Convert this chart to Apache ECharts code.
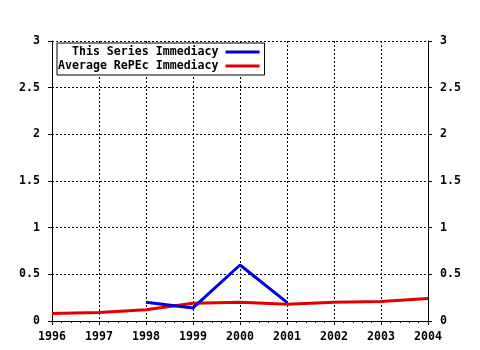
<!DOCTYPE html>
<html><head><meta charset="utf-8">
<script src="https://cdn.jsdelivr.net/npm/echarts@6/dist/echarts.min.js"></script>
<style>html,body{margin:0;padding:0;background:#fff}#c{width:480px;height:350px}</style>
</head><body><div id="c"></div>
<script>
const years = [1996, 1997, 1998, 1999, 2000, 2001, 2002, 2003, 2004];
const seriesYears = [1998, 1999, 2000, 2001];
const seriesImmediacy = [0.2, 0.14, 0.6, 0.2];
const averageImmediacy = [0.08, 0.09, 0.12, 0.19, 0.2, 0.18, 0.2, 0.21, 0.24];
const seriesNames = ['This Series Immediacy', 'Average RePEc Immediacy'];

const font = 'DejaVu Sans Mono';
const chart = echarts.init(document.getElementById('c'), null, {renderer: 'canvas'});
const yCommon = {
  type: 'value', min: 0, max: 3, interval: 0.5,
  axisLine: {show: true, lineStyle: {color: '#000', width: 1}},
  axisTick: {show: true, length: 4, lineStyle: {color: '#000'}},
  axisLabel: {color: '#000', fontFamily: font, fontWeight: 'bold', fontSize: 11.6, margin: 12}
};
chart.setOption({
  animation: false,
  backgroundColor: '#fff',
  grid: {left: 52, right: 52, top: 41, bottom: 29},
  legend: {
    orient: 'vertical', align: 'right', left: 57, top: 43,
    itemGap: 2, itemWidth: 34, itemHeight: 3, icon: 'rect',
    padding: [3, 5, 3, 1],
    backgroundColor: '#fff',
    borderColor: '#000', borderWidth: 1,
    textStyle: {color: '#000', fontFamily: font, fontWeight: 'bold', fontSize: 11.6, padding: [0, 2, 0, 0]},
    formatter: n => n === seriesNames[0] ? '  ' + n : n,
    data: seriesNames
  },
  xAxis: [{
    type: 'value', min: years[0], max: years[years.length - 1], interval: 1,
    axisLine: {show: true, lineStyle: {color: '#000'}},
    axisTick: {show: true, length: 4, lineStyle: {color: '#000'}},
    minorTick: {show: true, splitNumber: 5, length: 2, lineStyle: {color: '#000'}},
    splitLine: {show: true, lineStyle: {color: '#000', type: [2, 2], width: 1}},
    axisLabel: {color: '#000', fontFamily: font, fontWeight: 'bold', fontSize: 11.6, margin: 10, formatter: v => String(v)}
  }, {
    type: 'value', position: 'top', min: years[0], max: years[years.length - 1], interval: 1,
    axisLine: {show: true, lineStyle: {color: '#000'}},
    axisTick: {show: true, inside: true, length: 4, lineStyle: {color: '#000'}},
    minorTick: {show: true, splitNumber: 5, length: 2, lineStyle: {color: '#000'}},
    splitLine: {show: false},
    axisLabel: {show: false}
  }],
  yAxis: [
    Object.assign({}, yCommon, {position: 'left',
      splitLine: {show: true, lineStyle: {color: '#000', type: [2, 2], width: 1}}}),
    Object.assign({}, yCommon, {position: 'right', splitLine: {show: false}})
  ],
  series: [{
    name: seriesNames[0], type: 'line', symbol: 'none',
    lineStyle: {color: '#0000e0', width: 3}, itemStyle: {color: '#0000e0'},
    data: seriesYears.map((y, i) => [y, seriesImmediacy[i]]), z: 3
  }, {
    name: seriesNames[1], type: 'line', symbol: 'none',
    lineStyle: {color: '#e00000', width: 3}, itemStyle: {color: '#e00000'},
    data: years.map((y, i) => [y, averageImmediacy[i]]), z: 2
  }]
});
</script></body></html>
